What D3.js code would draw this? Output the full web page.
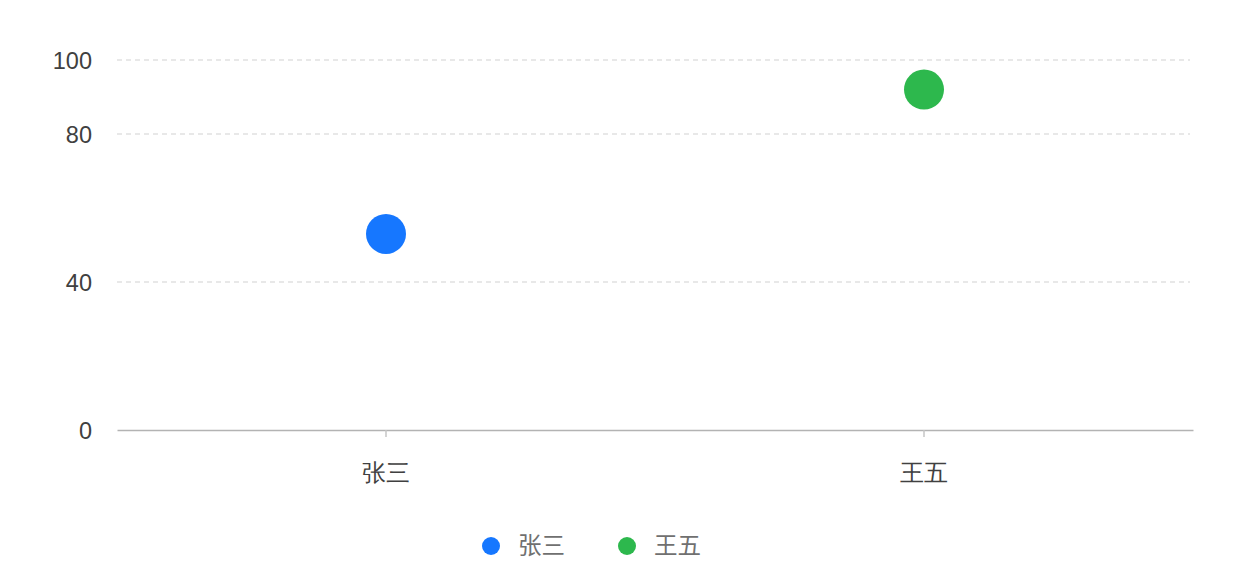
<!DOCTYPE html>
<html><head><meta charset="utf-8">
<script src="https://cdn.jsdelivr.net/npm/d3@7/dist/d3.min.js"></script>
<style>
html,body{margin:0;padding:0;background:#fff;}
svg{display:block;font-family:"Noto Sans","Noto Sans CJK SC",sans-serif;}
</style></head>
<body>
<svg id="chart" width="1252" height="580"></svg>
<script>
const categories = ["张三", "王五"];
const seriesNames = ["张三", "王五"];
const seriesValues = [53, 92];
const seriesColors = ["#1677ff", "#2db84d"];
const yTicks = [0, 40, 80, 100];

const W = 1252, H = 580;
const margin = {left: 117, right: 59, top: 60, bottom: 150};
const svg = d3.select("#chart");

const x = d3.scaleBand().domain(categories).range([margin.left, W - margin.right]);
const y = d3.scaleLinear().domain([0, 100]).range([H - margin.bottom, margin.top]);

// gridlines
svg.append("g").selectAll("line").data(yTicks.filter(t => t !== 0)).join("line")
  .attr("x1", margin.left).attr("x2", W - margin.right - 3)
  .attr("y1", d => y(d)).attr("y2", d => y(d))
  .attr("stroke", "#e1e1e1").attr("stroke-width", 1.5)
  .attr("stroke-dasharray", "5,4");

// y axis labels
const yAxis = d3.axisLeft(y).tickValues(yTicks).tickSize(0).tickPadding(0);
const gy = svg.append("g").attr("transform", `translate(${margin.left - 25},0)`).call(yAxis);
gy.select(".domain").remove();
gy.selectAll("text").attr("fill", "#404040").attr("font-size", 23.5).attr("dy", "0.35em");

// x axis
const xAxis = d3.axisBottom(x).tickSize(7).tickPadding(27).tickSizeOuter(0);
const gx = svg.append("g").attr("transform", `translate(0,${y(0)})`).call(xAxis);
gx.select(".domain").attr("stroke", "#b3b3b3").attr("stroke-width", 1.5);
gx.selectAll(".tick line").attr("stroke", "#c6c6c6").attr("stroke-width", 1.5);
gx.selectAll("text").attr("fill", "#404040").attr("font-size", 23.5);

// points
svg.append("g").selectAll("circle").data(seriesValues).join("circle")
  .attr("cx", (d, i) => x(categories[i]) + x.bandwidth() / 2)
  .attr("cy", d => y(d))
  .attr("r", 20)
  .attr("fill", (d, i) => seriesColors[i]);

// legend
const legendX = [491, 627];
const lg = svg.append("g").selectAll("g").data(seriesNames).join("g")
  .attr("transform", (d, i) => `translate(${legendX[i]},546)`);
lg.append("circle").attr("r", 9).attr("fill", (d, i) => seriesColors[i]);
lg.append("text").attr("x", 27).attr("dy", "0.35em")
  .attr("fill", "#707070").attr("font-size", 23.5).text(d => d);
</script>
</body></html>
